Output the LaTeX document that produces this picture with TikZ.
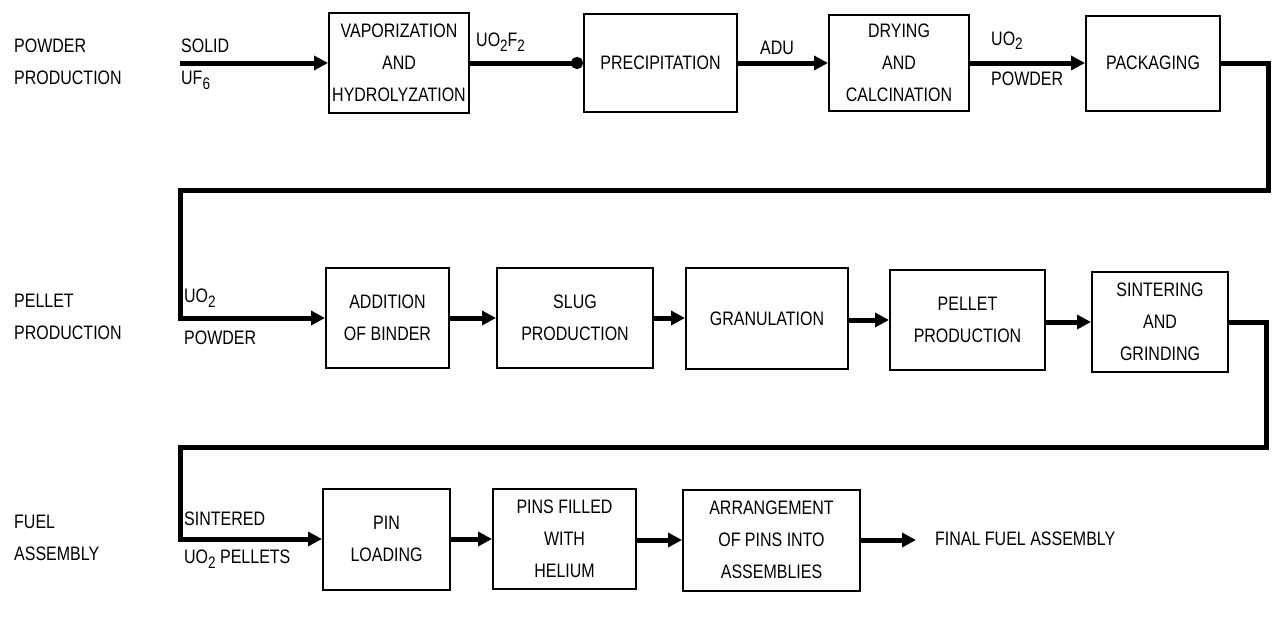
\documentclass[tikz,border=0pt]{standalone}
\usepackage{fontspec}
\setmainfont{Liberation Sans}[FakeStretch=0.82]
\usetikzlibrary{arrows.meta}
\newcommand\lowsub[1]{\raisebox{-5pt}{\fontsize{16.5}{16.5}\selectfont #1}}
\begin{document}
\begin{tikzpicture}[x=1pt,y=-1pt,
  txt/.style={font=\fontsize{19.5}{32}\selectfont},
  box/.style={draw, line width=2pt, align=center, inner sep=0pt, txt},
  lbl/.style={anchor=base west, inner sep=0pt, txt},
  rowlbl/.style={anchor=west, inner sep=0pt, align=left, txt},
  arr/.style={line width=5pt, -{Triangle[length=14pt,width=14pt]}},
  dotarr/.style={line width=5pt, -{Circle[length=12pt]}},
  link/.style={line width=5pt, line join=miter}]
\useasboundingbox (0,0) rectangle (1276,629);

% row labels
\node[rowlbl] (r1lbl) at (14,62) {POWDER\\PRODUCTION};
\node[rowlbl] (r2lbl) at (14,317) {PELLET\\PRODUCTION};
\node[rowlbl] (r3lbl) at (14,538) {FUEL\\ASSEMBLY};

% row 1
\node[box, minimum width=140pt, minimum height=100pt] (b1) at (399,63) {VAPORIZATION\\AND\\HYDROLYZATION};
\node[box, minimum width=153pt, minimum height=98pt] (b2) at (660.5,63) {PRECIPITATION};
\node[box, minimum width=140pt, minimum height=96pt] (b3) at (899,63) {DRYING\\AND\\CALCINATION};
\node[box, minimum width=134pt, minimum height=95pt] (b4) at (1153,63) {PACKAGING};

% row 2
\node[box, minimum width=123pt, minimum height=100pt] (b5) at (387.5,318) {ADDITION\\OF BINDER};
\node[box, minimum width=156pt, minimum height=100pt] (b6) at (575,318) {SLUG\\PRODUCTION};
\node[box, minimum width=162pt, minimum height=101pt] (b7) at (767,318.5) {GRANULATION};
\node[box, minimum width=155pt, minimum height=100pt] (b8) at (967.5,320) {PELLET\\PRODUCTION};
\node[box, minimum width=136pt, minimum height=100pt] (b9) at (1160,322) {SINTERING\\AND\\GRINDING};

% row 3
\node[box, minimum width=127pt, minimum height=101pt] (b10) at (386.5,539) {PIN\\LOADING};
\node[box, minimum width=143pt, minimum height=100pt] (b11) at (564.5,539) {PINS FILLED\\WITH\\HELIUM};
\node[box, minimum width=177pt, minimum height=101pt] (b12) at (771.5,540) {ARRANGEMENT\\OF PINS INTO\\ASSEMBLIES};
\node[anchor=west, inner ysep=0pt, inner xsep=0pt, txt] (fin) at (935,539) {FINAL FUEL ASSEMBLY};

% coordinates
\coordinate (in1) at (180,63);
\coordinate (r1) at (1268,190);
\coordinate (l2) at (180,190);
\coordinate (r2) at (1266,447);
\coordinate (l3) at (180,447);
\coordinate (fine) at (916,540);

% connectors
\draw[arr] (in1) -- (b1.west);
\draw[dotarr] (b1.east) -- (b2.west);
\draw[arr] (b2.east) -- (b3.west);
\draw[arr] (b3.east) -- (b4.west);
\draw[link] (b4.east) -| (r1) -- (l2) |- ([xshift=-14pt]b5.west);
\draw[arr] (l2 |- b5.west) -- (b5.west);
\draw[arr] (b5.east) -- (b5.east -| b6.west);
\draw[arr] (b6.east) -- (b6.east -| b7.west);
\draw[arr] (b7.east |- b8.west) -- (b8.west);
\draw[arr] (b8.east |- b9.west) -- (b9.west);
\draw[link] (b9.east) -| (r2) -- (l3) |- ([xshift=-14pt]b10.west);
\draw[arr] (l3 |- b10.west) -- (b10.west);
\draw[arr] (b10.east) -- (b10.east -| b11.west);
\draw[arr] (b11.east |- b12.west) -- (b12.west);
\draw[arr] (b12.east) -- (fine);

% connector labels
\node[lbl] (solid) at (181,52) {SOLID};
\node[lbl] (uf6) at (181,84) {UF\lowsub{6}};
\node[lbl] (uo2f2) at (476,46) {UO\lowsub{2}F\lowsub{2}};
\node[lbl] (adu) at (760,54) {ADU};
\node[lbl] (uo2a) at (991,45) {UO\lowsub{2}};
\node[lbl] (powa) at (991,85) {POWDER};
\node[lbl] (uo2b) at (184,302) {UO\lowsub{2}};
\node[lbl] (powb) at (184,344) {POWDER};
\node[lbl] (sint) at (184,525) {SINTERED};
\node[lbl] (uo2c) at (184,563) {UO\lowsub{2} PELLETS};
\end{tikzpicture}
\end{document}
